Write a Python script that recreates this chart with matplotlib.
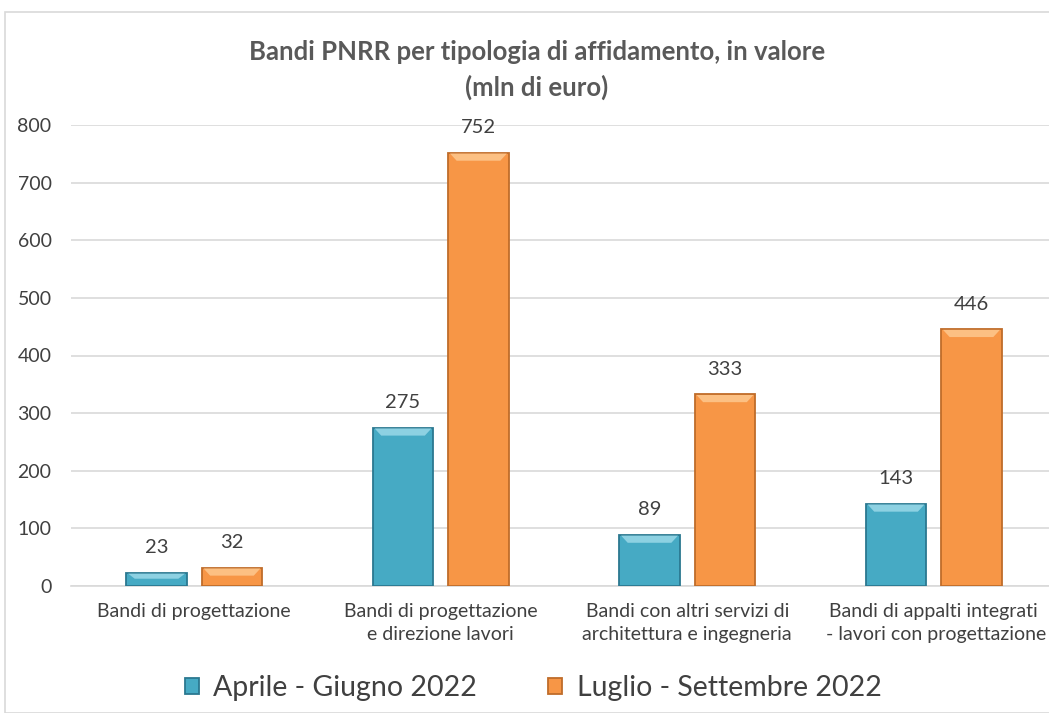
import matplotlib
matplotlib.use("Agg")
import matplotlib.pyplot as plt
from matplotlib.patches import Rectangle, Polygon
import numpy as np

categories = ["Bandi di progettazione",
              "Bandi di progettazione\ne direzione lavori",
              "Bandi con altri servizi di\narchitettura e ingegneria",
              "Bandi di appalti integrati\n - lavori con progettazione"]
series_names = ["Aprile - Giugno 2022", "Luglio - Settembre 2022"]
apr_giu = [23, 275, 89, 143]
lug_set = [32, 752, 333, 446]
yticks = [0, 100, 200, 300, 400, 500, 600, 700, 800]

plt.rcParams['font.family'] = ['Lato', 'DejaVu Sans']

W, H = 1049, 713
fig = plt.figure(figsize=(W/100, H/100), dpi=100)
fig.patches.append(Rectangle((5/W, 0), 1.2, (H-12)/H, transform=fig.transFigure,
                             fill=False, edgecolor='#d9d9d9', linewidth=1.2))

ax = fig.add_axes([71/W, 127/H, (W-71)/W, (586-125)/H])
x = np.arange(len(categories))
w = 0.247
off = 0.153
colors = ['#46AAC4', '#F79646']
edges = ['#2b7890', '#bf6c2a']
tops = ['#9ad8e8', '#fdc88f']
for vals, sgn, c, e, t, name in [(apr_giu, -1, colors[0], edges[0], tops[0], series_names[0]),
                                 (lug_set, 1, colors[1], edges[1], tops[1], series_names[1])]:
    ax.bar(x + sgn*off, vals, width=w, color=c, edgecolor=e, linewidth=1.3,
           label=name, zorder=3)
    # bevel highlight on top of each bar
    for xi, v in zip(x + sgn*off, vals):
        hb = min(14, v*0.45)
        inset = 0.035
        poly = Polygon([(xi - w/2 + 0.008, v - 1.5), (xi + w/2 - 0.008, v - 1.5),
                        (xi + w/2 - inset, v - hb), (xi - w/2 + inset, v - hb)],
                       closed=True, facecolor=t, edgecolor='none', alpha=0.85, zorder=4)
        ax.add_patch(poly)
    for xi, v in zip(x + sgn*off, vals):
        ax.text(xi, v + 43, str(v), ha='center', va='center', fontsize=14.5,
                color='#404040', zorder=5)

ax.set_xlim(-0.5, (W - 71)/246.5 - 0.5)
ax.set_ylim(0, 800)
ax.set_yticks(yticks)
ax.set_xticks(x)
ax.set_xticklabels(categories, fontsize=14, color='#404040', linespacing=1.45)
ax.tick_params(axis='y', labelsize=14, labelcolor='#404040', length=0, pad=14)
ax.tick_params(axis='x', length=0, pad=12)
ax.yaxis.grid(True, color='#d9d9d9', linewidth=1.2, zorder=0)
ax.set_axisbelow(True)
for s in ['top', 'right', 'left']:
    ax.spines[s].set_visible(False)
ax.spines['bottom'].set_color('#d9d9d9')
ax.spines['bottom'].set_linewidth(1.2)

fig.text(537/W, 1 - 70/H, "Bandi PNRR per tipologia di affidamento, in valore\n(mln di euro)",
         ha='center', va='center', fontsize=18.5, fontweight='bold', color='#595959',
         linespacing=1.5)

fig.legend(loc='center', bbox_to_anchor=(533/W, 1 - 688/H), ncol=2, frameon=False,
           fontsize=20.5, handlelength=0.5, handleheight=0.5, handletextpad=0.5,
           columnspacing=2.5, labelcolor='#404040')

fig.savefig("out.png", dpi=100)
